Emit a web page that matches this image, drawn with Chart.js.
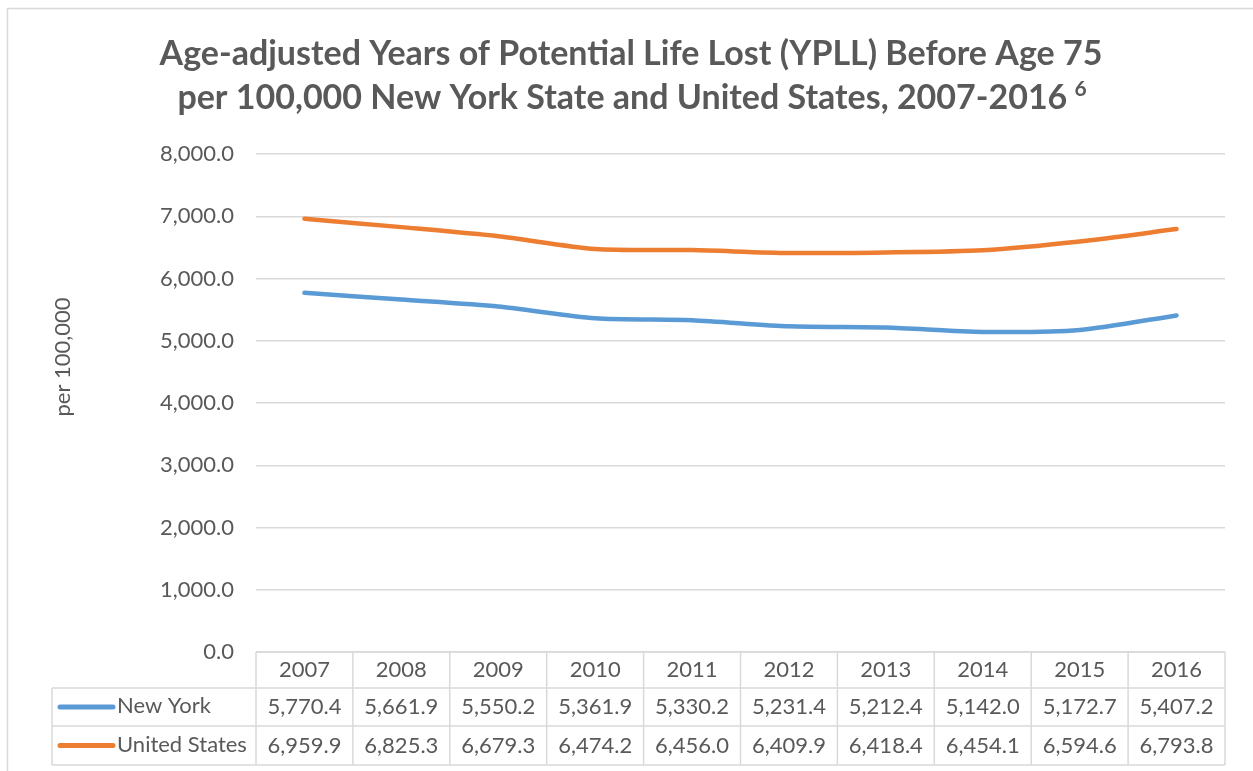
<!DOCTYPE html>
<html>
<head>
<meta charset="utf-8">
<script src="https://cdn.jsdelivr.net/npm/chart.js@4.4.0/dist/chart.umd.min.js"></script>
<style>
  html, body { margin: 0; padding: 0; background: #fff; }
  #wrap { width: 1253px; height: 771px; }
</style>
</head>
<body>
<div id="wrap"><canvas id="c" width="1253" height="771"></canvas></div>
<script>
// Données
var years = ['2007', '2008', '2009', '2010', '2011', '2012', '2013', '2014', '2015', '2016'];
var newYork = [5770.4, 5661.9, 5550.2, 5361.9, 5330.2, 5231.4, 5212.4, 5142.0, 5172.7, 5407.2];
var unitedStates = [6959.9, 6825.3, 6679.3, 6474.2, 6456.0, 6409.9, 6418.4, 6454.1, 6594.6, 6793.8];
var yTicks = [0, 1000, 2000, 3000, 4000, 5000, 6000, 7000, 8000];

var titleLines = [
    'Age-adjusted Years of Potential Life Lost (YPLL) Before Age 75',
    'per 100,000 New York State and United States, 2007-2016'
];
var titleNote = '6';
var yTitle = 'per 100,000';

var FONT = 'Lato, "Open Sans", sans-serif';
var TEXT = '#595959';
var GRID = '#d9d9d9';
var BLUE = '#5b9bd5';
var ORANGE = '#ed7d31';

function fmt(v) {
    return v.toLocaleString('en-US', { minimumFractionDigits: 1, maximumFractionDigits: 1 });
}

var series = [
    { label: 'New York', data: newYork, color: BLUE },
    { label: 'United States', data: unitedStates, color: ORANGE }
];

// Titre, titre de l'axe Y, cadre et tableau de données
var extras = {
    id: 'extras',
    beforeDraw: function (chart) {
        var ctx = chart.ctx;
        ctx.save();
        ctx.strokeStyle = GRID;
        ctx.lineWidth = 1.5;
        ctx.strokeRect(7.5, 8.5, 1400, 1000);
        ctx.restore();
    },
    afterDraw: function (chart) {
        var ctx = chart.ctx;
        var area = chart.chartArea;
        var x = chart.scales.x;
        ctx.save();

        // Titre
        ctx.fillStyle = TEXT;
        ctx.textAlign = 'center';
        ctx.textBaseline = 'middle';
        ctx.font = 'bold 34px ' + FONT;
        var cx = 631;
        ctx.fillText(titleLines[0], cx, 54);
        var w2 = ctx.measureText(titleLines[1]).width;
        ctx.font = 'bold 21px ' + FONT;
        var wn = ctx.measureText(' ' + titleNote).width;
        var start = cx - (w2 + wn) / 2;
        ctx.textAlign = 'left';
        ctx.font = 'bold 34px ' + FONT;
        ctx.fillText(titleLines[1], start, 98);
        ctx.font = 'bold 21px ' + FONT;
        ctx.fillText(' ' + titleNote, start + w2 + 2, 89);

        // Titre axe Y
        ctx.save();
        ctx.translate(63, 357);
        ctx.rotate(-Math.PI / 2);
        ctx.textAlign = 'center';
        ctx.font = '22px ' + FONT;
        ctx.fillText(yTitle, 0, 0);
        ctx.restore();

        // Tableau
        var half = (x.getPixelForValue(1) - x.getPixelForValue(0)) / 2;
        var top = area.bottom;
        var rows = [top, top + 36, top + 74, top + 113];
        var legLeft = 52;
        ctx.strokeStyle = GRID;
        ctx.lineWidth = 1.5;
        ctx.beginPath();
        // lignes horizontales
        ctx.moveTo(area.left, rows[0]); ctx.lineTo(area.right, rows[0]);
        for (var r = 1; r < rows.length; r++) {
            ctx.moveTo(legLeft, rows[r]); ctx.lineTo(area.right, rows[r]);
        }
        // lignes verticales
        for (var i = 0; i <= years.length; i++) {
            var vx = i < years.length ? x.getPixelForValue(i) - half : x.getPixelForValue(years.length - 1) + half;
            ctx.moveTo(vx, rows[0]); ctx.lineTo(vx, rows[3]);
        }
        ctx.moveTo(legLeft, rows[1]); ctx.lineTo(legLeft, rows[3]);
        ctx.stroke();

        ctx.fillStyle = TEXT;
        ctx.font = '22px ' + FONT;
        ctx.textAlign = 'center';
        ctx.textBaseline = 'middle';
        years.forEach(function (y, i) {
            var px = x.getPixelForValue(i);
            ctx.fillText(y, px, (rows[0] + rows[1]) / 2);
            series.forEach(function (s, k) {
                ctx.fillText(fmt(s.data[i]), px, (rows[k + 1] + rows[k + 2]) / 2);
            });
        });

        series.forEach(function (s, k) {
            var cy = (rows[k + 1] + rows[k + 2]) / 2;
            ctx.strokeStyle = s.color;
            ctx.lineWidth = 5;
            ctx.lineCap = 'round';
            ctx.beginPath();
            ctx.moveTo(60, cy); ctx.lineTo(113, cy);
            ctx.stroke();
            ctx.fillStyle = TEXT;
            ctx.textAlign = 'left';
            ctx.fillText(s.label, 117, cy - 1);
        });

        ctx.restore();
    }
};

new Chart(document.getElementById('c'), {
    type: 'line',
    data: {
        labels: years,
        datasets: series.map(function (s) {
            return {
                label: s.label,
                data: s.data,
                borderColor: s.color,
                backgroundColor: s.color,
                borderWidth: 4.5,
                pointRadius: 0,
                tension: 0.25,
                borderCapStyle: 'round'
            };
        })
    },
    options: {
        responsive: false,
        animation: false,
        layout: { padding: { left: 0, right: 28, top: 154, bottom: 119 } },
        plugins: {
            legend: { display: false },
            title: { display: false },
            tooltip: { enabled: false }
        },
        scales: {
            x: {
                type: 'category',
                display: false,
                offset: true
            },
            y: {
                min: 0,
                max: 8000,
                afterFit: function (scale) { scale.width = 256; },
                afterBuildTicks: function (scale) {
                    scale.ticks = yTicks.map(function (v) { return { value: v }; });
                },
                border: { display: false },
                grid: { color: GRID, lineWidth: 1.5, drawTicks: false },
                ticks: {
                    color: TEXT,
                    padding: 22,
                    font: { family: FONT, size: 22 },
                    callback: function (v) { return fmt(v); }
                }
            }
        }
    },
    plugins: [extras]
});
</script>
</body>
</html>
